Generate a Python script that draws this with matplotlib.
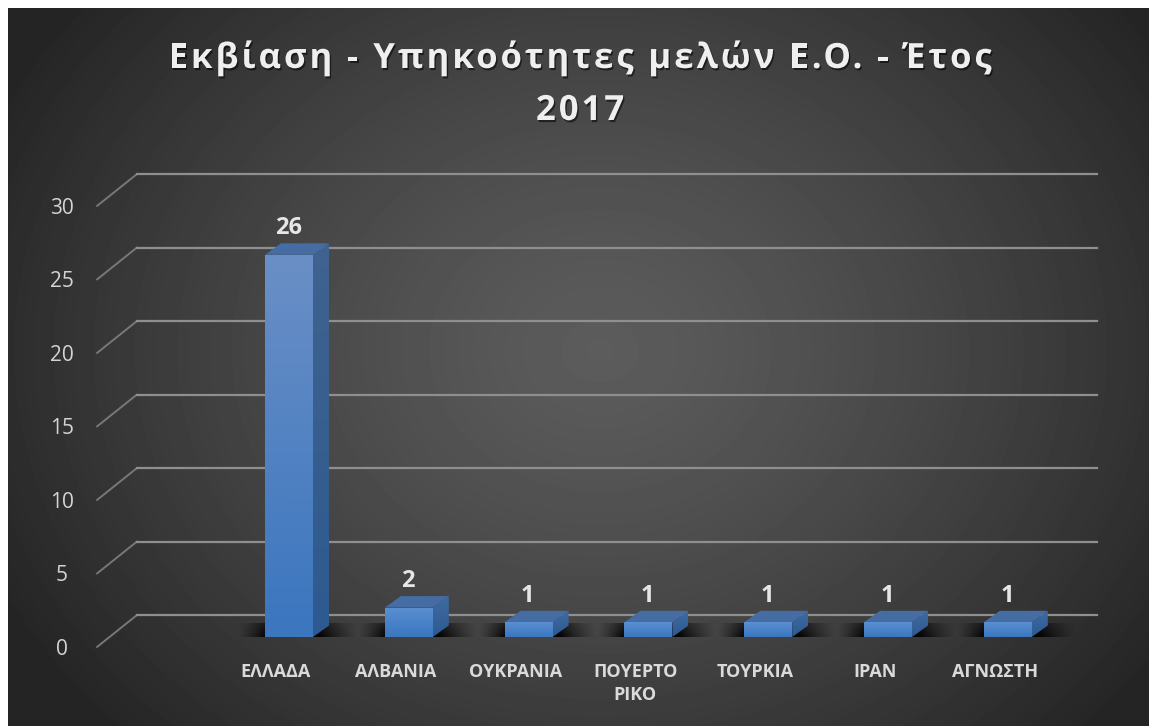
import numpy as np
import matplotlib
matplotlib.use('Agg')
import matplotlib.pyplot as plt
from matplotlib.colors import LinearSegmentedColormap
from matplotlib.patches import Polygon
import matplotlib.patheffects as pe

plt.rcParams['font.family'] = ['Open Sans', 'Noto Sans', 'DejaVu Sans']

# data
categories = ['ΕΛΛΑΔΑ', 'ΑΛΒΑΝΙΑ', 'ΟΥΚΡΑΝΙΑ', 'ΠΟΥΕΡΤΟ\nΡΙΚΟ', 'ΤΟΥΡΚΙΑ', 'ΙΡΑΝ', 'ΑΓΝΩΣΤΗ']
values = [26, 2, 1, 1, 1, 1, 1]
yticks = [0, 5, 10, 15, 20, 25, 30]
title_lines = ['Εκβίαση - Υπηκοότητες μελών Ε.Ο. - Έτος', '2017']

W, H = 1149, 726
X0, XU = 289.0, 119.8   # pixel of first category, pixels per category
Y0, YU = 637.0, 14.7    # pixel of value 0 at the bars, pixels per unit
BAR_W = 48 / XU
DX, DY = 16 / XU, 11.5 / YU     # depth of the 3d bars
WALL_DX, WALL_DY = 40 / XU, 32 / YU  # depth of the gridline wall


def px_x(p):
    return (p - X0) / XU


def px_y(p):
    return (Y0 - p) / YU


def gradient_patch(ax, xy, top, bottom, zorder):
    # polygon filled with a vertical gradient
    xy = np.array(xy)
    cmap = LinearSegmentedColormap.from_list('g', [top, bottom])
    im = ax.imshow(np.linspace(0, 1, 64)[:, None], cmap=cmap, aspect='auto',
                   extent=(xy[:, 0].min(), xy[:, 0].max(), xy[:, 1].min(), xy[:, 1].max()),
                   zorder=zorder, interpolation='bilinear')
    im.set_clip_path(Polygon(xy, closed=True, transform=ax.transData))


def draw_spaced(fig, line, center, baseline, width=None, spacing=None, **kw):
    # the title has wide letter spacing, so place it glyph by glyph
    r = fig.canvas.get_renderer()
    probe = fig.text(0, 0, '', **kw)

    def w(s):
        probe.set_text(s)
        return probe.get_window_extent(r).width

    def adv(s, c):
        return w(s + c) - w(c) if s else 0.0

    plain = adv(line[:-1], line[-1]) + w(line[-1])
    if spacing is None:
        spacing = (width - plain) / (len(line) - 1)
    start = center - (plain + spacing * (len(line) - 1)) / 2
    shadow = [pe.SimplePatchShadow(offset=(1, -1.5), shadow_rgbFace='k', alpha=0.55), pe.Normal()]
    for i, c in enumerate(line):
        if c != ' ':
            fig.text((start + adv(line[:i], c) + i * spacing) / W, 1 - baseline / H, c,
                     va='baseline', ha='left', path_effects=shadow, **kw)
    probe.remove()
    return spacing


fig = plt.figure(figsize=(W / 100, H / 100), dpi=100, facecolor='white')

# background panel with radial gradient
bg = fig.add_axes([8 / W, 0, (W - 8) / W, (H - 8) / H], zorder=0)
px, py = np.meshgrid(np.arange(8, W), np.arange(8, H))
r = np.minimum(1, np.hypot((px - 600) / 680, (py - 350) / 560))
bg.imshow(92 - 56 * r ** 1.3, cmap='gray', vmin=0, vmax=255, aspect='auto', interpolation='bilinear')
bg.axis('off')

ax = fig.add_axes([0, 0, 1, 1], zorder=1)
ax.patch.set_alpha(0)

# gridlines on the back wall and their slanted ends
left = px_x(97)
right = px_x(1097)
floor = px_y(647)
for t in yticks:
    y = floor + t
    ax.plot([left, left + WALL_DX], [y, y + WALL_DY], color='#787878', lw=1.4, zorder=1,
            solid_capstyle='round')
    ax.plot([left + WALL_DX, right], [y + WALL_DY, y + WALL_DY], color='#8f8f8f', lw=1.6, zorder=1)
    ax.annotate(str(t), (px_x(62), y), xytext=(0, -1.5), textcoords='offset points',
                color='#d4d4d4', fontsize=15, ha='center', va='center')

# bars
for i, (cat, v) in enumerate(zip(categories, values)):
    x0 = i - BAR_W / 2
    x1 = i + BAR_W / 2
    # floor shadow
    sxs = np.linspace(px_x(238) + i, px_x(360) + i, 244)
    t = (sxs - x0) * XU
    a = np.where(t < 0, np.clip(1 + t / 27, 0, 1), np.clip(1 - (t - 56) / 36, 0, 1))
    rows = np.linspace(0.6, 1, 12)[:, None]
    rgba = np.zeros((12, 244, 4))
    rgba[..., 3] = 0.95 * a[None, :] ** 1.3 * rows
    ax.imshow(rgba, aspect='auto', extent=(sxs[0], sxs[-1], 0, px_y(623)), zorder=2,
              interpolation='bilinear')
    # side, top, front faces
    gradient_patch(ax, [(x1, 0), (x1 + DX, DY), (x1 + DX, v + DY), (x1, v)],
                   '#40638f' if v > 2 else '#3f6ba3', '#2d5a90', 3)
    ax.add_patch(Polygon([(x0, v), (x0 + DX, v + DY), (x1 + DX, v + DY), (x1, v)],
                         closed=True, fc='#456ca3', ec='none', zorder=3))
    gradient_patch(ax, [(x0, 0), (x1, 0), (x1, v), (x0, v)],
                   '#6a8fc6' if v > 2 else '#5a90d2', '#3b76bf', 4)
    ax.annotate(str(v), (i, v), xytext=(-0.5, 19), textcoords='offset points', ha='center',
                va='center', color='#e6e6e6', fontsize=17, fontweight='bold', zorder=5)
    ax.annotate(cat, (i, px_y(663)), xytext=(-9.5, 0), textcoords='offset points', ha='center',
                va='top', color='#dadada', fontsize=13, fontweight='bold', linespacing=1.35,
                zorder=5)

ax.set_xlim(px_x(0), px_x(W))
ax.set_ylim(px_y(H), px_y(0))
ax.axis('off')

# title
font = dict(fontsize=25, fontweight='bold', color='#efefef')
sp = draw_spaced(fig, title_lines[0], 580, 68, width=823, **font)
draw_spaced(fig, title_lines[1], 580, 120, spacing=sp, **font)

fig.savefig('out.png', dpi=100, facecolor='white')
